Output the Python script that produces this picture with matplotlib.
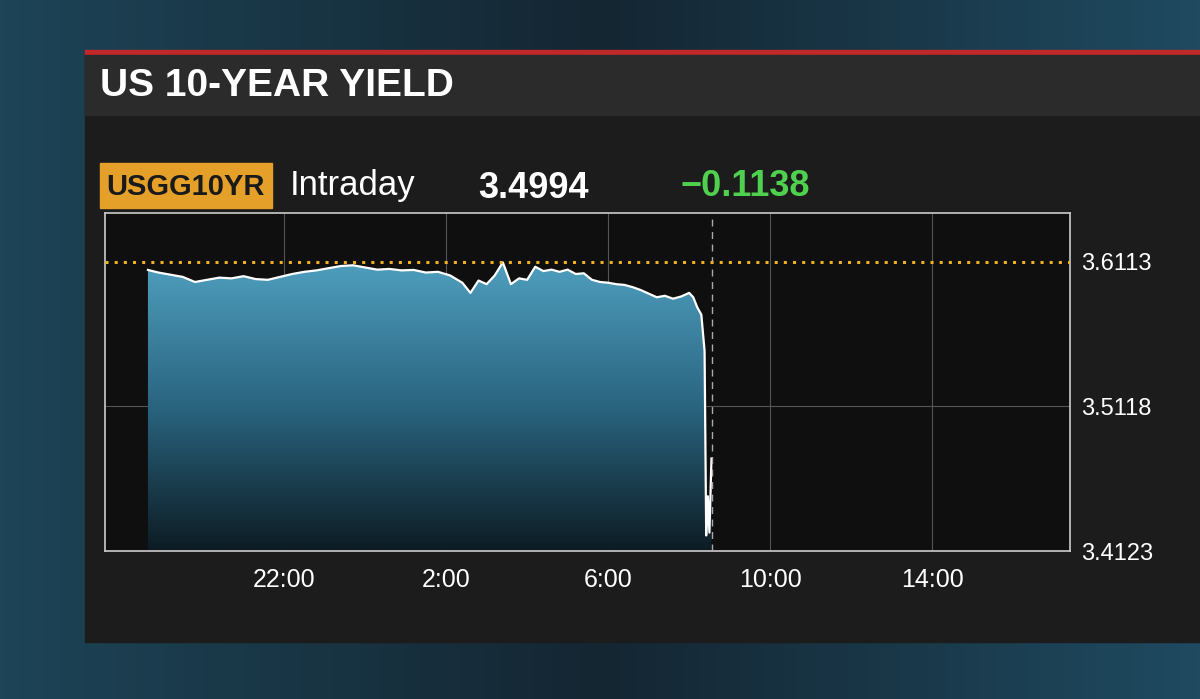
import matplotlib
matplotlib.use("Agg")
import matplotlib.pyplot as plt
import numpy as np
from matplotlib.patches import Rectangle, Polygon

plt.rcParams["font.family"] = ["Liberation Sans", "DejaVu Sans"]

# hours since 18:00 previous day
hours = [0.64, 0.9, 1.2, 1.5, 1.8, 2.1, 2.4, 2.7, 3.0, 3.3, 3.6, 3.9, 4.2, 4.5, 4.8,
         5.1, 5.4, 5.7, 6.0, 6.3, 6.6, 6.9, 7.2, 7.5, 7.8, 8.1, 8.4, 8.6, 8.8, 9.0,
         9.2, 9.4, 9.6, 9.8, 10.0, 10.2, 10.4, 10.6, 10.8, 11.0, 11.2, 11.4, 11.6,
         11.8, 12.0, 12.2, 12.4, 12.6, 12.8, 13.0, 13.2, 13.4, 13.6, 13.8, 14.0,
         14.1, 14.2, 14.3, 14.38, 14.42, 14.46, 14.5, 14.55]
yields = [3.6058, 3.6040, 3.6025, 3.6010, 3.5975, 3.5990, 3.6005, 3.6000, 3.6015,
          3.5995, 3.5990, 3.6010, 3.6030, 3.6045, 3.6055, 3.6070, 3.6085, 3.6090,
          3.6075, 3.6060, 3.6065, 3.6055, 3.6058, 3.6040, 3.6045, 3.6020, 3.5970,
          3.5900, 3.5985, 3.5960, 3.6020, 3.6110, 3.5960, 3.6000, 3.5990, 3.6080,
          3.6050, 3.6060, 3.6045, 3.6060, 3.6030, 3.6035, 3.5990, 3.5975, 3.5970,
          3.5960, 3.5955, 3.5940, 3.5920, 3.5895, 3.5870, 3.5880, 3.5860, 3.5875,
          3.5900, 3.5870, 3.5800, 3.5750, 3.5500, 3.4230, 3.4500, 3.4250, 3.4760]
prev_close = 3.6113
last_price = "3.4994"
net_change = "\u22120.1138"
ytick_vals = [3.6113, 3.5118, 3.4123]
xtick_pos = [4, 8, 12, 16, 20]
xtick_labels = ["22:00", "2:00", "6:00", "10:00", "14:00"]

W, H = 1200, 699
fig = plt.figure(figsize=(12, 6.99), dpi=100)
fig.patch.set_facecolor("#17313f")
bg = fig.add_axes([0, 0, 1, 1])
bg.set_xlim(0, W)
bg.set_ylim(H, 0)
bg.axis("off")
grad = np.linspace(0, 1, 256).reshape(1, -1)
bg.imshow(grad, extent=[0, W, H, 0], cmap=matplotlib.colors.LinearSegmentedColormap.from_list(
    "b", ["#1d4457", "#142632", "#1f4a60"]), aspect="auto")
bg.add_patch(Rectangle((85, 52), 1115, 590, color="#1c1c1c"))
bg.add_patch(Rectangle((85, 50), 1115, 5, color="#c0282a"))
bg.add_patch(Rectangle((85, 55), 1115, 60, color="#2b2b2b"))
bg.text(100, 86, "US 10-YEAR YIELD", color="white", fontsize=28, fontweight="bold", va="center")
bg.add_patch(Rectangle((100, 163), 172, 45, color="#e5a02a"))
bg.text(186, 187, "USGG10YR", color="#1a1a1a", fontsize=21, fontweight="bold", va="center", ha="center")
bg.text(290, 186, "Intraday", color="white", fontsize=25, va="center")
bg.text(478, 189, last_price, color="white", fontsize=26, fontweight="bold", va="center")
bg.text(680, 186, net_change, color="#4fd14f", fontsize=26, fontweight="bold", va="center")

ax = fig.add_axes([105 / W, 1 - 551 / H, 965 / W, 338 / H])
ax.set_facecolor("#0f0f0f")
xlo, xhi = -0.42, 23.4
ylo, yhi = 3.4130, 3.6450
ax.set_xlim(xlo, xhi)
ax.set_ylim(ylo, yhi)

# gradient fill under curve
cmap = matplotlib.colors.LinearSegmentedColormap.from_list("f", ["#0d1c24", "#2a6580", "#4f9fbf"])
im = ax.imshow(np.linspace(0, 1, 256).reshape(-1, 1)[::-1], extent=[xlo, xhi, ylo, 3.612],
               cmap=cmap, aspect="auto", zorder=1)
poly = Polygon(list(zip(hours, yields)) + [(hours[-1], ylo), (hours[0], ylo)],
               closed=True, transform=ax.transData, facecolor="none", edgecolor="none")
ax.add_patch(poly)
im.set_clip_path(poly)
ax.plot(hours, yields, color="white", lw=1.6, zorder=3)

for x in xtick_pos:
    ax.axvline(x, color="#555555", lw=0.8, zorder=0.5)
ax.axhline(3.5118, color="#555555", lw=0.8, zorder=0.5)
ax.axvline(hours[-1] + 0.02, color="#aaaaaa", lw=1, ls=(0, (5, 4)), zorder=4)
ax.axhline(prev_close, color="#f0b020", lw=2.2, ls=(0, (1, 2)), zorder=4)

for s in ax.spines.values():
    s.set_color("#cccccc")
    s.set_linewidth(1.2)
ax.set_xticks(xtick_pos)
ax.set_xticklabels(xtick_labels, color="white", fontsize=18)
ax.set_yticks(ytick_vals)
ax.set_yticklabels([f"{v:.4f}" for v in ytick_vals], color="white", fontsize=17)
ax.get_yticklabels()[-1].set_va("bottom")
ax.yaxis.tick_right()
ax.tick_params(axis="y", length=0, pad=8)
ax.tick_params(axis="x", length=0, pad=12)

fig.savefig("out.png", dpi=100, facecolor=fig.get_facecolor())
